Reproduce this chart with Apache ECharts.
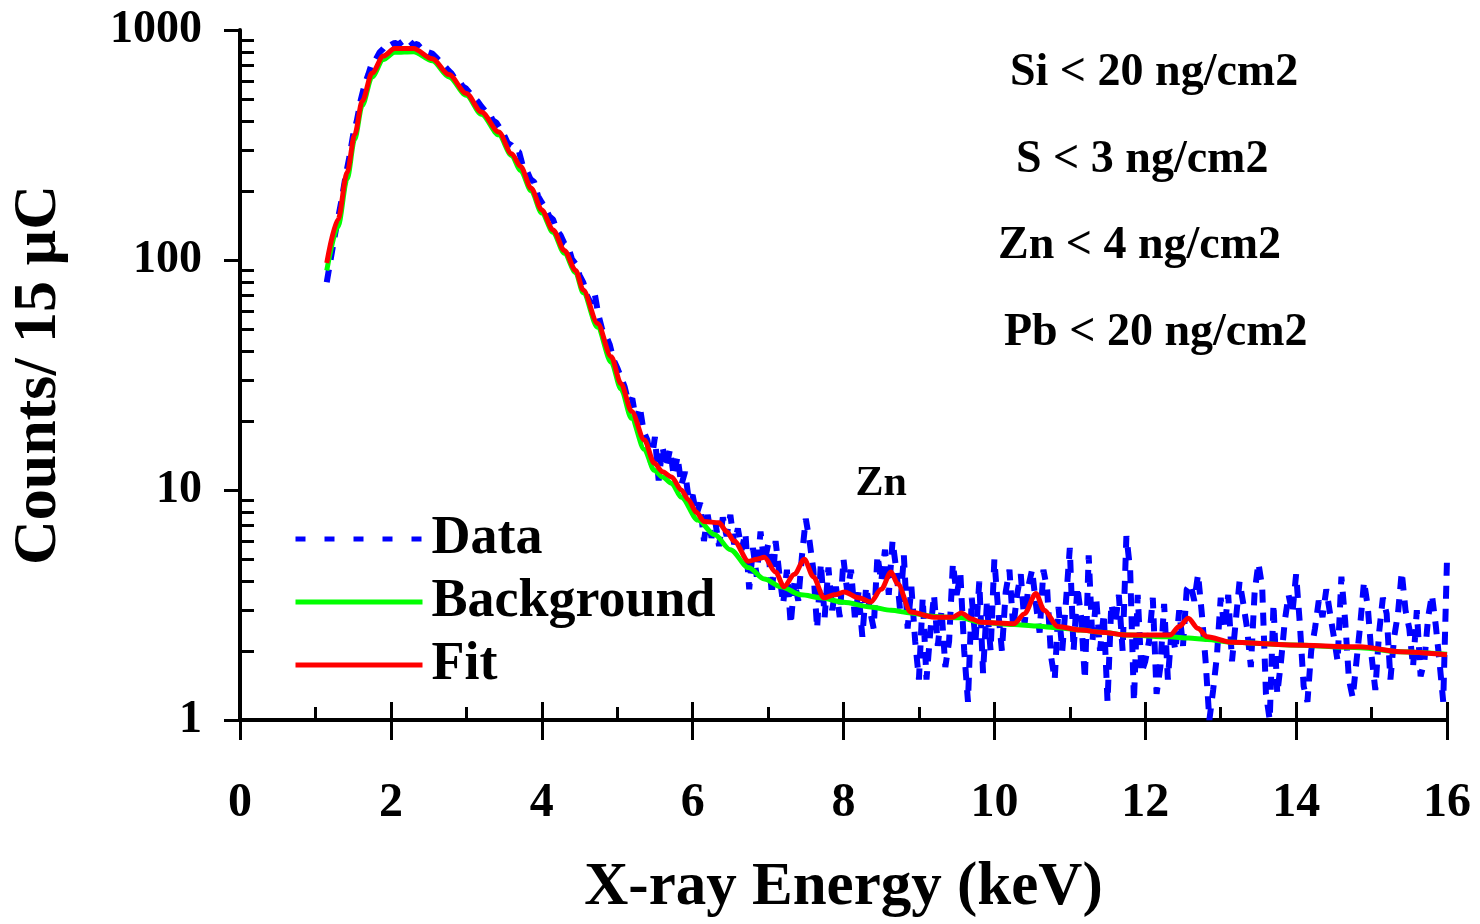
<!DOCTYPE html>
<html>
<head>
<meta charset="utf-8">
<title>X-ray spectrum</title>
<script src="https://cdn.jsdelivr.net/npm/echarts@6/dist/echarts.min.js"></script>
<style>
  html, body { margin: 0; padding: 0; background: #fff; }
  #chart { width: 1480px; height: 924px; }
</style>
</head>
<body>
<div id="chart"></div>
<script>
const FONT = '"Liberation Serif", "Times New Roman", serif';

// measured spectrum, 0.05 keV channels; each row starts at rowStart[i]
const channelWidth = 0.05;
const rowStart = [1.15, 2, 3, 4, 5, 6, 7, 8, 9, 10, 11, 12, 13, 14, 15, 16];
const dataRows = [
  [80, 100, 124, 152, 185, 232, 280, 350, 405, 495, 575, 640, 720, 745, 800, 830, 870],
  [860, 880, 865, 890, 870, 895, 860, 870, 835, 825, 800, 790, 760, 730, 705, 675, 650, 615, 605, 570],
  [555, 530, 510, 490, 465, 445, 440, 405, 395, 372, 350, 322, 315, 300, 295, 255, 245, 225, 218, 190],
  [178, 168, 155, 150, 135, 128, 118, 115, 101, 96, 86, 80, 70, 65, 72, 58, 50, 47, 43, 37],
  [34, 31, 28, 24, 25, 20, 23, 18, 16.5, 13, 17, 11, 15.5, 12.5, 15, 11.5, 14, 10.5, 12, 9],
  [9.5, 7.8, 8.8, 6.0, 7.8, 6.2, 7.3, 5.7, 7.6, 6.3, 7.8, 5.8, 6.8, 5.5, 6.5, 3.7, 5.6, 4.2, 6.6, 4.8],
  [5.8, 3.5, 6.0, 4.3, 3.2, 4.5, 2.6, 4.0, 3.3, 5.2, 7.5, 6.0, 4.5, 2.5, 4.8, 2.8, 4.6, 3.0, 3.8, 2.8],
  [5.0, 3.6, 4.5, 2.8, 3.6, 2.3, 3.8, 3.0, 2.5, 5.2, 4.0, 5.5, 3.5, 6.0, 4.5, 3.0, 5.2, 2.5, 3.8, 2.2],
  [1.5, 3.4, 1.5, 2.4, 3.5, 2.1, 3.0, 1.7, 2.2, 4.8, 3.5, 4.3, 2.0, 1.2, 3.4, 2.2, 4.0, 1.6, 3.2, 2.0],
  [5.0, 3.0, 2.0, 3.6, 4.5, 2.5, 3.5, 4.3, 2.6, 3.8, 4.5, 3.2, 2.4, 4.5, 3.7, 1.9, 1.5, 3.1, 2.0, 3.3],
  [5.6, 2.0, 3.8, 2.8, 1.5, 5.2, 2.2, 3.4, 2.0, 2.9, 1.2, 3.2, 2.6, 3.5, 2.0, 6.3, 4.5, 1.2, 3.5, 1.6],
  [1.8, 2.2, 3.4, 1.3, 1.7, 3.2, 1.5, 2.5, 2.0, 3.0, 2.1, 3.7, 3.9, 3.3, 4.3, 2.9, 1.8, 1.0, 1.35, 1.9],
  [3.4, 2.5, 3.5, 1.8, 2.7, 4.0, 3.2, 2.5, 1.7, 3.6, 4.8, 3.8, 1.3, 1.0, 3.2, 1.3, 1.8, 2.7, 3.5, 2.9],
  [4.3, 2.6, 1.4, 1.2, 2.0, 2.5, 3.3, 2.8, 3.7, 2.9, 2.3, 1.8, 4.2, 2.7, 1.5, 1.25, 1.8, 2.6, 4.0, 3.1],
  [1.9, 1.35, 2.4, 3.4, 2.9, 1.5, 2.3, 2.9, 4.4, 3.0, 2.5, 1.7, 3.0, 1.55, 1.8, 2.8, 3.5, 2.6, 1.8, 1.2],
  [5.0]
];

// fitted curve
const fitEnergy = [1.15, 1.30, 1.42, 1.52, 1.62, 1.75, 1.90, 2.05, 2.30, 2.55, 2.77, 3.00, 3.20, 3.43, 3.60, 3.72, 3.86, 4.00, 4.15, 4.30, 4.45, 4.55, 4.74, 4.92, 5.05, 5.19, 5.36, 5.49, 5.60, 5.72, 5.85, 5.94, 6.05, 6.15, 6.35, 6.45, 6.55, 6.74, 6.85, 6.95, 7.10, 7.21, 7.35, 7.48, 7.60, 7.74, 7.88, 8.01, 8.20, 8.36, 8.50, 8.63, 8.72, 8.89, 9.20, 9.45, 9.56, 9.70, 9.82, 10.26, 10.40, 10.55, 10.66, 10.84, 11.14, 11.41, 11.77, 12.33, 12.45, 12.57, 12.70, 12.82, 13.13, 13.92, 14.85, 15.38, 16.0];
const fitCounts = [97, 150, 240, 350, 490, 650, 770, 830, 830, 750, 640, 530, 440, 360, 290, 255, 205, 165, 135, 110, 90, 74, 53, 38, 29, 22, 16.5, 13.1, 12.0, 11.4, 10.0, 9.1, 8.0, 7.3, 7.2, 6.6, 6.0, 4.9, 5.0, 5.1, 4.4, 3.8, 4.3, 5.0, 4.2, 3.4, 3.5, 3.6, 3.4, 3.26, 3.7, 4.4, 3.9, 2.95, 2.8, 2.8, 2.92, 2.75, 2.66, 2.62, 2.9, 3.55, 3.0, 2.55, 2.46, 2.41, 2.34, 2.34, 2.55, 2.77, 2.5, 2.30, 2.18, 2.12, 2.08, 1.98, 1.92];

// background under the peaks
const bgEnergy = [1.15, 1.30, 1.42, 1.52, 1.62, 1.75, 1.90, 2.05, 2.30, 2.55, 2.77, 3.00, 3.20, 3.43, 3.60, 3.72, 3.86, 4.00, 4.15, 4.30, 4.45, 4.55, 4.74, 4.92, 5.05, 5.19, 5.36, 5.49, 5.60, 5.72, 5.85, 6.07, 6.29, 6.50, 6.74, 6.95, 7.17, 7.44, 7.70, 8.00, 8.36, 8.63, 8.89, 9.20, 9.56, 9.82, 10.26, 10.55, 10.84, 11.14, 11.41, 11.77, 12.33, 12.57, 12.82, 13.13, 13.92, 14.85, 15.38, 16.0];
const bgCounts = [90, 140, 225, 335, 470, 625, 745, 800, 805, 735, 625, 520, 430, 350, 285, 245, 200, 160, 132, 107, 88, 72, 51, 36, 27.5, 20.5, 15, 12.2, 11.4, 10.7, 9.3, 7.4, 6.4, 5.5, 4.6, 4.1, 3.8, 3.5, 3.4, 3.25, 3.1, 3.0, 2.92, 2.82, 2.78, 2.66, 2.6, 2.56, 2.52, 2.46, 2.41, 2.34, 2.3, 2.27, 2.24, 2.18, 2.12, 2.06, 1.98, 1.93];

const minorXTicks = [1, 3, 5, 7, 9, 11, 13, 15];
const minorYTicks = [2, 3, 4, 5, 6, 7, 8, 9, 20, 30, 40, 50, 60, 70, 80, 90, 200, 300, 400, 500, 600, 700, 800, 900];
const limitTexts = ['Si < 20 ng/cm2', 'S < 3 ng/cm2', 'Zn < 4 ng/cm2', 'Pb < 20 ng/cm2'];
const peakLabel = { name: 'Zn', energy: 8.5, counts: 10.6 };

const dataPoints = [];
dataRows.forEach((row, r) => {
  row.forEach((c, j) => {
    dataPoints.push([+(rowStart[r] + j * channelWidth).toFixed(2), c]);
  });
});
const zip = (xs, ys) => xs.map((x, i) => [x, ys[i]]);

const bold = (size) => ({ fontFamily: FONT, fontWeight: 'bold', fontSize: size, color: '#000' });
const black = { color: '#000', width: 3 };

const chart = echarts.init(document.getElementById('chart'));
chart.setOption({
  animation: false,
  backgroundColor: '#fff',
  grid: { left: 238, right: 33, top: 30, bottom: 204 },
  xAxis: [
    {
      type: 'value', position: 'bottom', min: 0, max: 16, interval: 2,
      name: 'X-ray Energy (keV)', nameLocation: 'middle', nameGap: 138,
      nameTextStyle: bold(61),
      axisLine: { show: true, onZero: false, lineStyle: { color: '#000', width: 4 } },
      axisTick: { show: true, inside: false, length: 20, lineStyle: black },
      axisLabel: Object.assign({ margin: 60 }, bold(48)),
      splitLine: { show: false }
    },
    {
      type: 'value', position: 'bottom', min: 0, max: 16, interval: 2,
      axisLine: { show: false },
      axisTick: { show: true, inside: true, length: 18, lineStyle: black },
      axisLabel: { show: false }, splitLine: { show: false }
    },
    {
      type: 'value', position: 'bottom', min: 0, max: 16, interval: 2,
      axisLine: { show: false },
      axisTick: { show: true, inside: true, length: 13, lineStyle: black, customValues: minorXTicks },
      axisLabel: { show: false }, splitLine: { show: false }
    }
  ],
  yAxis: [
    {
      type: 'log', logBase: 10, position: 'left', min: 1, max: 1000,
      name: 'Counts/ 15 µC', nameLocation: 'middle', nameGap: 170,
      nameTextStyle: bold(62),
      axisLine: { show: true, onZero: false, lineStyle: { color: '#000', width: 4 } },
      axisTick: { show: true, inside: false, length: 16, lineStyle: black },
      axisLabel: Object.assign({ margin: 38, formatter: (v) => String(Math.round(v)) }, bold(46)),
      splitLine: { show: false }
    },
    {
      type: 'log', logBase: 10, position: 'left', min: 1, max: 1000,
      axisLine: { show: false },
      axisTick: { show: true, inside: true, length: 14, lineStyle: black, customValues: minorYTicks },
      axisLabel: { show: false }, splitLine: { show: false }
    }
  ],
  legend: {
    orient: 'vertical', left: 288, top: 507,
    itemWidth: 127, itemHeight: 14, itemGap: 9,
    itemStyle: { opacity: 0 },
    lineStyle: { width: 5 },
    textStyle: Object.assign({ lineHeight: 54, padding: [0, 0, 0, 4] }, bold(54)),
    data: [
      { name: 'Data', lineStyle: { width: 5, type: [10, 19] } },
      { name: 'Background' },
      { name: 'Fit' }
    ]
  },
  series: [
    {
      name: 'Data', type: 'line', symbol: 'none', z: 1,
      lineStyle: { color: '#0000ff', width: 6, type: [13, 10] },
      itemStyle: { color: '#0000ff' },
      data: dataPoints
    },
    {
      name: 'Background', type: 'line', symbol: 'none', z: 2,
      smooth: 0.3, smoothMonotone: 'x',
      lineStyle: { color: '#00ff00', width: 5 },
      itemStyle: { color: '#00ff00' },
      data: zip(bgEnergy, bgCounts)
    },
    {
      name: 'Fit', type: 'line', symbol: 'none', z: 3,
      smooth: 0.3, smoothMonotone: 'x',
      lineStyle: { color: '#ff0000', width: 5 },
      itemStyle: { color: '#ff0000' },
      data: zip(fitEnergy, fitCounts),
      markPoint: {
        silent: true, symbol: 'rect', symbolSize: 1,
        itemStyle: { color: 'rgba(0,0,0,0)' },
        label: Object.assign({ show: true, position: 'inside', formatter: peakLabel.name }, bold(42)),
        data: [{ coord: [peakLabel.energy, peakLabel.counts] }]
      }
    }
  ],
  graphic: limitTexts.map((t, i) => ({
    type: 'text',
    x: [1010, 1016, 998, 1004][i],
    y: [73, 160, 246, 333][i],
    style: { text: t, fill: '#000', font: 'bold 46px ' + FONT, verticalAlign: 'middle' }
  }))
});
window.addEventListener('resize', () => chart.resize());
</script>
</body>
</html>
